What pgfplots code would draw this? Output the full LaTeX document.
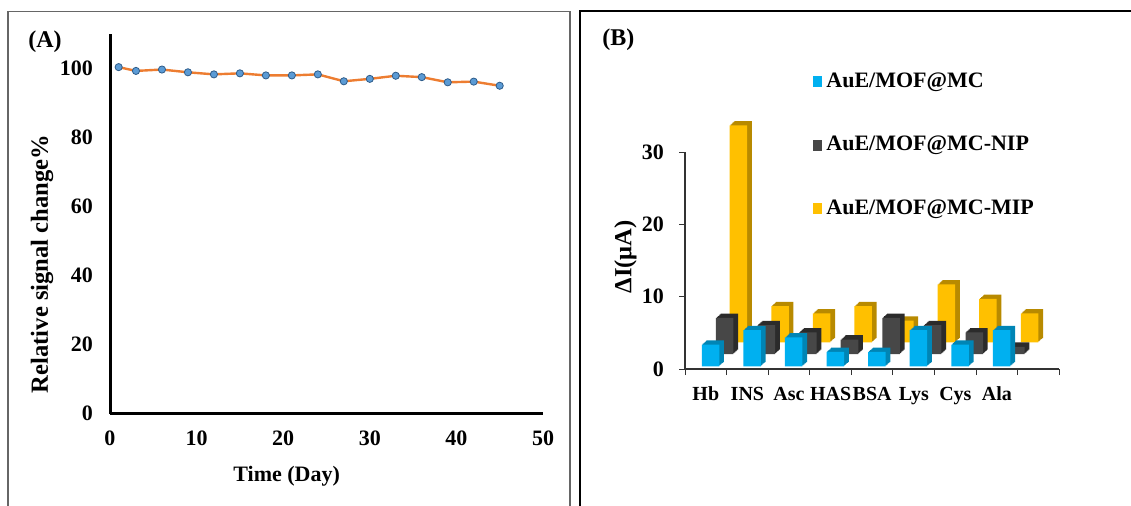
\documentclass[border=0pt]{standalone}
\usepackage{fontspec}
\setmainfont{Liberation Serif}
\usepackage{pgfplots}
\pgfplotsset{compat=1.18}
\usepackage{pgfplotstable}

\definecolor{lineorange}{HTML}{ED7D31}
\definecolor{markblue}{HTML}{5B9BD5}
\definecolor{markedge}{HTML}{2E5C8A}
\definecolor{cblue}{HTML}{00B0F0}
\definecolor{cblueside}{HTML}{0085B5}
\definecolor{cgray}{HTML}{474747}
\definecolor{cgrayside}{HTML}{2B2B2B}
\definecolor{cgold}{HTML}{FFC000}
\definecolor{cgoldside}{HTML}{B88A00}

\pgfplotstableread{
day val
1 100.4
3 99.3
6 99.7
9 98.9
12 98.3
15 98.6
18 98.0
21 98.0
24 98.3
27 96.3
30 97.0
33 97.9
36 97.5
39 96.0
42 96.2
45 95.0
}\stability

\pgfplotstableread{
x mc nip mip
0 3 5 30
1 5 4 5
2 4 3 4
3 2 2 5
4 2 5 3
5 5 4 8
6 3 3 6
7 5 1 4
}\selectivity

\begin{document}
\begin{tikzpicture}
\useasboundingbox (0,0) rectangle (565.5pt,252.5pt);
% panel frames
\draw[line width=0.6pt, black!60] (4pt,-5pt) |- (285pt,246.7pt) -- (285pt,-5pt);
\draw[line width=1.1pt, black] (290pt,-5pt) |- (575pt,247pt);

% ---------------- Panel A ----------------
\begin{axis}[
  at={(55pt,45.75pt)}, anchor=south west,
  width=216.5pt, height=189.75pt, scale only axis,
  xmin=0, xmax=50, ymin=0, ymax=110,
  clip=false,
  axis lines=left,
  axis line style={-, line width=1.5pt, black},
  xtick={0,10,...,50}, ytick={0,20,...,100},
  major tick length=0pt,
  /pgf/number format/assume math mode=true,
  tick label style={font=\fontsize{11}{13}\selectfont\bfseries},
  xticklabel style={yshift=-5pt},
  yticklabel style={xshift=-5pt},
  xlabel={Time (Day)},
  ylabel={Relative signal change\%},
  xlabel style={at={(axis description cs:0.408,-0.1665)}, anchor=center, font=\fontsize{11}{13}\selectfont\bfseries},
  ylabel style={at={(axis description cs:-0.157,0.394)}, anchor=center, font=\fontsize{12.3}{14}\selectfont\bfseries},
]
\addplot[color=lineorange, line width=1.2pt, mark=*, mark size=1.8pt,
  mark options={fill=markblue, draw=markedge, line width=0.4pt}]
  table[x=day, y=val]{\stability};
\node[font=\fontsize{12}{14}\selectfont\bfseries] at (axis description cs:-0.150,0.980) {(A)};
\end{axis}

% ---------------- Panel B ----------------
\begin{axis}[
  at={(342.5pt,68pt)}, anchor=south west,
  width=187.2pt, height=108.5pt, scale only axis,
  xmin=-0.5, xmax=8.5, ymin=0, ymax=30,
  clip=false,
  axis lines=left,
  axis line style={-, line width=0.6pt, black!80},
  xtick={-0.5,0.5,1.5,2.5,3.5,4.5,5.5,6.5,7.5,8.5},
  xticklabels={},
  extra x ticks={0,1,2,3,4,5,6,7},
  extra x tick labels={Hb,INS,Asc,HAS,BSA,Lys,Cys,Ala},
  extra x tick style={major tick length=0pt, tick label style={yshift=-5.5pt, font=\fontsize{10}{12}\selectfont\bfseries}},
  ytick={0,10,20,30},
  tick align=outside, major tick length=3pt,
  tick style={black!80, line width=0.5pt},
  /pgf/number format/assume math mode=true,
  tick label style={font=\fontsize{11}{13}\selectfont\bfseries},
  yticklabel style={xshift=-4pt},
  ylabel={ΔI(μA)},
  ylabel style={at={(axis description cs:-0.159,0.5175)}, anchor=center, font=\fontsize{12.3}{14}\selectfont\bfseries},
  legend style={at={(axis description cs:0.342,1.386)}, anchor=north west, draw=none, fill=none,
    inner sep=0pt, row sep=19pt, font=\fontsize{11}{13}\selectfont\bfseries},
  legend cell align=left,
  reverse legend,
]
% back layer: MIP (gold)
\pgfplotsinvokeforeach{1,2,3,4,5}{
  \addplot[ybar, bar width=8.75pt, bar shift=0pt, fill=cgoldside, draw=none, forget plot,
    xshift=16.3pt+#1*0.47pt, yshift=13.35pt+#1*0.43pt] table[x=x, y=mip]{\selectivity};
}
\addplot[ybar, bar width=8.75pt, bar shift=0pt, fill=cgold, draw=none,
    xshift=16.3pt, yshift=13.35pt,
    legend image code/.code={\fill[cgold, xshift=-16.3pt, yshift=-13.35pt] (0pt,-2.8pt) rectangle (4.5pt,2.8pt);}]
    table[x=x, y=mip]{\selectivity};
\addlegendentry{AuE/MOF@MC-MIP}
% middle layer: NIP (dark gray)
\pgfplotsinvokeforeach{1,2,3,4,5}{
  \addplot[ybar, bar width=8.75pt, bar shift=0pt, fill=cgrayside, draw=none, forget plot,
    xshift=9.45pt+#1*0.47pt, yshift=7.5pt+#1*0.43pt] table[x=x, y=nip]{\selectivity};
}
\addplot[ybar, bar width=8.75pt, bar shift=0pt, fill=cgray, draw=none,
    xshift=9.45pt, yshift=7.5pt,
    legend image code/.code={\fill[cgray, xshift=-9.45pt, yshift=-7.5pt] (0pt,-2.8pt) rectangle (4.5pt,2.8pt);}]
    table[x=x, y=nip]{\selectivity};
\addlegendentry{AuE/MOF@MC-NIP}
% front layer: MC (blue)
\pgfplotsinvokeforeach{1,2,3,4,5}{
  \addplot[ybar, bar width=8.75pt, bar shift=0pt, fill=cblueside, draw=none, forget plot,
    xshift=2.35pt+#1*0.47pt, yshift=1.35pt+#1*0.43pt] table[x=x, y=mc]{\selectivity};
}
\addplot[ybar, bar width=8.75pt, bar shift=0pt, fill=cblue, draw=none,
    xshift=2.35pt, yshift=1.35pt,
    legend image code/.code={\fill[cblue, xshift=-2.35pt, yshift=-1.35pt] (0pt,-2.8pt) rectangle (4.5pt,2.8pt);}]
    table[x=x, y=mc]{\selectivity};
\addlegendentry{AuE/MOF@MC}
\node[font=\fontsize{12}{14}\selectfont\bfseries] at (axis description cs:-0.178,1.516) {(B)};
\end{axis}
\end{tikzpicture}
\end{document}
